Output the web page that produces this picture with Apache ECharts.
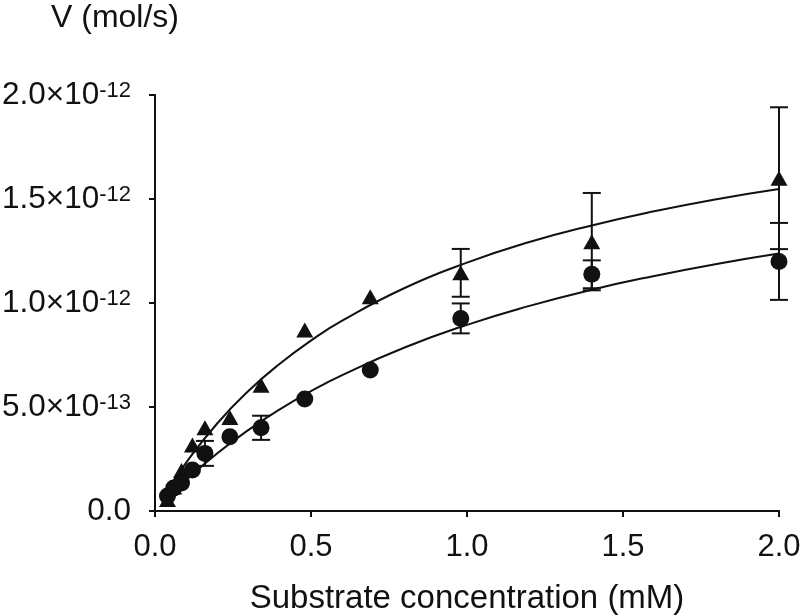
<!DOCTYPE html>
<html>
<head>
<meta charset="utf-8">
<script src="https://cdn.jsdelivr.net/npm/echarts@6/dist/echarts.min.js"></script>
<style>
html,body{margin:0;padding:0;background:#fff;}
#chart{width:800px;height:616px;}
</style>
</head>
<body>
<div id="chart"></div>
<script>
// Substrate concentration (mM)
const conc = [0.04, 0.06, 0.085, 0.12, 0.16, 0.24, 0.34, 0.48, 0.69, 0.98, 1.4, 2.0];
// Velocities in units of 1e-13 mol/s
const vTriangle = [0.55, 1.15, 1.95, 3.17, 4.0, 4.5, 6.05, 8.7, 10.3, 11.45, 12.95, 16.0];
const vCircle   = [0.72, 1.1, 1.35, 1.97, 2.77, 3.57, 4.0, 5.38, 6.78, 9.26, 11.38, 12.0];
const errTriangle = [0, 0, 0, 0, 0, 0, 0, 0, 0, 1.15, 2.34, 3.41];
const errCircle   = [0, 0, 0, 0, 0.6, 0, 0.58, 0, 0, 0.72, 0.67, 1.85];
// Fitted curves (units of 1e-13 mol/s)
const curveX      = [0.04, 0.1, 0.2, 0.3, 0.4, 0.5, 0.6, 0.8, 1.0, 1.2, 1.4, 1.6, 1.8, 2.0];
const fitTriangle = [1.0, 2.33, 4.22, 5.78, 7.08, 8.19, 9.15, 10.72, 11.94, 12.93, 13.73, 14.41, 14.99, 15.48];
const fitCircle   = [0.63, 1.49, 2.78, 3.90, 4.89, 5.76, 6.53, 7.86, 8.95, 9.86, 10.64, 11.30, 11.88, 12.38];
// Tick labels
const xTickLabels = ['0.0', '0.5', '1.0', '1.5', '2.0'];
const yTickMantissa = ['0.0', '5.0\u00d710', '1.0\u00d710', '1.5\u00d710', '2.0\u00d710'];
const yTickExp = ['', '-13', '-12', '-12', '-12'];

const FONT = '"Liberation Sans", Arial, Helvetica, sans-serif';
const INK = '#111';

const pts = (xs, ys) => xs.map((x, i) => [x, ys[i]]);
const errData = (xs, ys, es) => xs.map((x, i) => [x, ys[i] - es[i], ys[i] + es[i]]).filter((d, i) => es[i] > 0);

function errRender(params, api) {
  const x = api.value(0), lo = api.value(1), hi = api.value(2);
  const pHi = api.coord([x, hi]);
  const pLo = api.coord([x, lo]);
  const h = 9;
  const st = { stroke: INK, lineWidth: 2 };
  return {
    type: 'group',
    children: [
      { type: 'line', shape: { x1: pHi[0], y1: pHi[1], x2: pLo[0], y2: pLo[1] }, style: st },
      { type: 'line', shape: { x1: pHi[0] - h, y1: pHi[1], x2: pHi[0] + h, y2: pHi[1] }, style: st },
      { type: 'line', shape: { x1: pLo[0] - h, y1: pLo[1], x2: pLo[0] + h, y2: pLo[1] }, style: st }
    ]
  };
}

const chart = echarts.init(document.getElementById('chart'), null, { renderer: 'canvas' });
chart.setOption({
  backgroundColor: '#fff',
  animation: false,
  title: {
    text: 'V (mol/s)',
    left: 51, top: 2, padding: 0,
    textStyle: { fontFamily: FONT, fontSize: 32, fontWeight: 'normal', color: INK }
  },
  grid: { left: 155, right: 21, top: 95, bottom: 105, containLabel: false, outerBoundsMode: 'none' },
  xAxis: {
    type: 'value', min: 0, max: 2, interval: 0.5,
    name: 'Substrate concentration (mM)',
    nameLocation: 'middle', nameGap: 71,
    nameTextStyle: { fontFamily: FONT, fontSize: 33, color: INK },
    axisLine: { onZero: false, lineStyle: { color: INK, width: 2 } },
    axisTick: { show: true, length: 6, lineStyle: { color: INK, width: 2 } },
    splitLine: { show: false },
    axisLabel: {
      margin: 21, fontFamily: FONT, fontSize: 31, color: INK,
      formatter: (v, i) => xTickLabels[i]
    }
  },
  yAxis: {
    type: 'value', min: 0, max: 20, interval: 5,
    axisLine: { show: true, lineStyle: { color: INK, width: 2 } },
    axisTick: { show: true, length: 6, lineStyle: { color: INK, width: 2 } },
    splitLine: { show: false },
    axisLabel: {
      margin: 24, color: INK,
      formatter: (v, i) => yTickExp[i] ? '{b|' + yTickMantissa[i] + '}{s|' + yTickExp[i] + '}' : '{b|' + yTickMantissa[i] + '}',
      rich: {
        b: { fontFamily: FONT, fontSize: 31.5, lineHeight: 31, color: INK },
        s: { fontFamily: FONT, fontSize: 22, lineHeight: 22, color: INK, verticalAlign: 'top' }
      }
    }
  },
  series: [
    { type: 'line', data: pts(curveX, fitTriangle), smooth: true, showSymbol: false, symbol: 'none',
      lineStyle: { color: INK, width: 2 }, z: 2 },
    { type: 'line', data: pts(curveX, fitCircle), smooth: true, showSymbol: false, symbol: 'none',
      lineStyle: { color: INK, width: 2 }, z: 2 },
    { type: 'custom', renderItem: errRender, data: errData(conc, vTriangle, errTriangle),
      encode: { x: 0, y: [1, 2] }, z: 3 },
    { type: 'custom', renderItem: errRender, data: errData(conc, vCircle, errCircle),
      encode: { x: 0, y: [1, 2] }, z: 3 },
    { type: 'scatter', data: pts(conc, vTriangle), symbol: 'triangle', symbolSize: [17, 15],
      itemStyle: { color: INK, opacity: 1 }, z: 4 },
    { type: 'scatter', data: pts(conc, vCircle), symbol: 'circle', symbolSize: 17,
      itemStyle: { color: INK, opacity: 1 }, z: 4 }
  ]
});
</script>
</body>
</html>
